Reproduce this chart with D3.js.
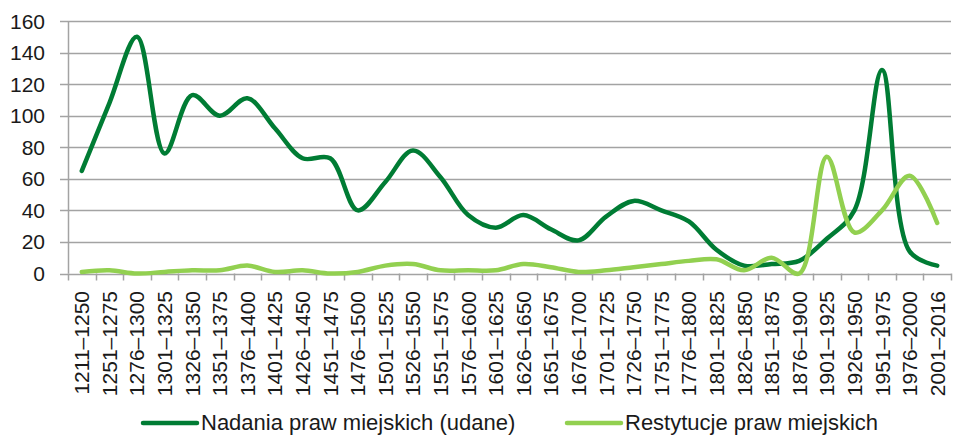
<!DOCTYPE html>
<html>
<head>
<meta charset="utf-8">
<script src="https://cdn.jsdelivr.net/npm/d3@7"></script>
<style>
  body { margin: 0; background: #fff; }
  svg { display: block; font-family: "Liberation Sans", Arial, sans-serif; }
</style>
</head>
<body>
<div id="chart"></div>
<script>
// Categories (periods)
let periods = ['1211–1250', '1251–1275', '1276–1300', '1301–1325', '1326–1350', '1351–1375',
    '1376–1400', '1401–1425', '1426–1450', '1451–1475', '1476–1500', '1501–1525', '1526–1550',
    '1551–1575', '1576–1600', '1601–1625', '1626–1650', '1651–1675', '1676–1700', '1701–1725',
    '1726–1750', '1751–1775', '1776–1800', '1801–1825', '1826–1850', '1851–1875', '1876–1900',
    '1901–1925', '1926–1950', '1951–1975', '1976–2000', '2001–2016'];

// Nadania praw miejskich (udane)
let grants = [65, 108, 150, 76, 113, 100, 111, 92, 73, 73, 40, 58, 78, 61, 37, 29,
    37, 28, 21, 36, 46, 40, 33, 15, 5, 6, 8, 22, 40, 129, 14, 5];

// Restytucje praw miejskich
let restitutions = [1, 2, 0, 1, 2, 2, 5, 1, 2, 0, 1, 5, 6, 2, 2, 2,
    6, 4, 1, 2, 4, 6, 8, 9, 2, 10, 0, 74, 26, 40, 62, 32];

let yTicks = [0, 20, 40, 60, 80, 100, 120, 140, 160];

let seriesNames = ['Nadania praw miejskich (udane)', 'Restytucje praw miejskich'];
let seriesColors = ['#007c34', '#92d050'];

let svgWidth = 953,
    svgHeight = 435;

let svg = d3.select('#chart')
    .append('svg')
    .attr('width', svgWidth)
    .attr('height', svgHeight);

let x = d3.scaleBand()
    .domain(periods)
    .range([68, 951])
    .padding(0);

let y = d3.scaleLinear()
    .domain([0, 160])
    .range([273.5, 21]);

let gridColor = '#a3a3a3';
let textColor = '#1a1a1a';

// Horizontal gridlines + y tick marks
svg.append('g')
    .selectAll('line')
    .data(yTicks)
    .enter()
    .append('line')
    .attr('x1', 60)
    .attr('x2', 951)
    .attr('y1', d => Math.round(y(d)) + 0.5)
    .attr('y2', d => Math.round(y(d)) + 0.5)
    .attr('stroke', gridColor)
    .attr('stroke-width', 1.5);

// Y labels
svg.append('g')
    .selectAll('text')
    .data(yTicks)
    .enter()
    .append('text')
    .attr('x', 45)
    .attr('y', d => y(d) + 7.5)
    .attr('text-anchor', 'end')
    .attr('fill', textColor)
    .style('font-size', '21px')
    .text(d => d);

// Vertical axis line
svg.append('line')
    .attr('x1', 68.5).attr('x2', 68.5)
    .attr('y1', y(160)).attr('y2', y(0))
    .attr('stroke', gridColor)
    .attr('stroke-width', 1.5);

// X tick marks at category boundaries
let boundaries = periods.map(p => x(p)).concat([x.range()[1]]);
svg.append('g')
    .selectAll('line')
    .data(boundaries)
    .enter()
    .append('line')
    .attr('x1', d => Math.round(d) + 0.5)
    .attr('x2', d => Math.round(d) + 0.5)
    .attr('y1', y(0))
    .attr('y2', y(0) + 7)
    .attr('stroke', gridColor)
    .attr('stroke-width', 1.5);

// X labels (rotated)
svg.append('g')
    .selectAll('text')
    .data(periods)
    .enter()
    .append('text')
    .attr('transform', d => `translate(${x(d) + x.bandwidth() / 2 + 7.5}, 291) rotate(-90)`)
    .attr('text-anchor', 'end')
    .attr('fill', textColor)
    .style('font-size', '21px')
    .text(d => d);

// Lines
let line = d3.line()
    .x((d, i) => x(periods[i]) + x.bandwidth() / 2)
    .y(d => y(d))
    .curve(d3.curveCatmullRom.alpha(0.5));

[grants, restitutions].forEach((series, k) => {
    svg.append('path')
        .datum(series)
        .attr('d', line)
        .attr('fill', 'none')
        .attr('stroke', seriesColors[k])
        .attr('stroke-width', 4.5)
        .attr('stroke-linejoin', 'round')
        .attr('stroke-linecap', 'round');
});

// Legend
let legendX = [143, 567];
let legend = svg.append('g')
    .selectAll('g')
    .data(seriesNames)
    .enter()
    .append('g')
    .attr('transform', (d, i) => `translate(${legendX[i]}, 423)`);

legend.append('line')
    .attr('x1', 0).attr('x2', 54)
    .attr('y1', 0).attr('y2', 0)
    .attr('stroke', (d, i) => seriesColors[i])
    .attr('stroke-width', 4.5)
    .attr('stroke-linecap', 'round');

legend.append('text')
    .attr('x', 58)
    .attr('y', 6.5)
    .attr('fill', textColor)
    .style('font-size', '22px')
    .text(d => d);
</script>
</body>
</html>
